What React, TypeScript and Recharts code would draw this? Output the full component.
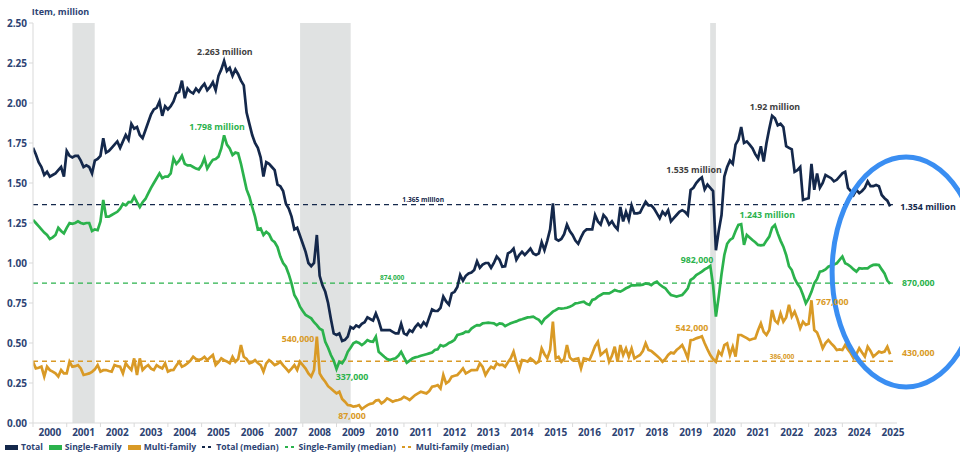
import React from 'react';
import {
  LineChart,
  Line,
  XAxis,
  YAxis,
  ReferenceArea,
  ReferenceLine,
  ReferenceDot,
  Legend,
} from 'recharts';

// Monthly values, million units (SAAR), Jan 2000 .. Jun 2025
const START_YEAR = 2000;

const totalSeries = [
  1.72, 1.68, 1.63, 1.60, 1.55, 1.57, 1.54, 1.55, 1.56, 1.58, 1.60, 1.54, // 2000
  1.70, 1.67, 1.66, 1.67, 1.67, 1.64, 1.60, 1.61, 1.60, 1.56, 1.64, 1.65, // 2001
  1.67, 1.78, 1.69, 1.70, 1.72, 1.74, 1.76, 1.72, 1.76, 1.80, 1.77, 1.87, // 2002
  1.84, 1.85, 1.80, 1.78, 1.83, 1.88, 1.93, 1.96, 1.97, 2.01, 1.92, 1.98, // 2003
  1.96, 1.98, 2.01, 2.06, 2.07, 2.14, 2.03, 2.09, 2.07, 2.06, 2.09, 2.07, // 2004
  2.10, 2.12, 2.08, 2.10, 2.13, 2.08, 2.17, 2.21, 2.263, 2.20, 2.22, 2.17, // 2005
  2.21, 2.18, 2.14, 2.11, 1.94, 1.87, 1.80, 1.75, 1.72, 1.66, 1.54, 1.63, // 2006
  1.62, 1.60, 1.58, 1.49, 1.48, 1.45, 1.37, 1.34, 1.29, 1.21, 1.22, 1.17, // 2007
  1.12, 1.07, 1.00, 0.98, 1.00, 1.175, 0.92, 0.86, 0.82, 0.75, 0.65, 0.56, // 2008
  0.55, 0.56, 0.513, 0.52, 0.54, 0.60, 0.59, 0.61, 0.60, 0.62, 0.63, 0.66, // 2009
  0.65, 0.64, 0.685, 0.64, 0.58, 0.58, 0.58, 0.58, 0.57, 0.56, 0.56, 0.62, // 2010
  0.56, 0.55, 0.58, 0.57, 0.60, 0.62, 0.60, 0.63, 0.61, 0.66, 0.71, 0.70, // 2011
  0.70, 0.72, 0.79, 0.76, 0.74, 0.81, 0.82, 0.85, 0.925, 0.89, 0.92, 0.935, // 2012
  0.94, 0.956, 1.01, 0.97, 0.99, 1.00, 1.00, 0.97, 1.00, 1.04, 1.02, 0.977, // 2013
  0.98, 1.06, 1.07, 1.09, 1.02, 1.05, 1.07, 1.05, 1.07, 1.09, 1.06, 1.05, // 2014
  1.06, 1.13, 1.08, 1.14, 1.21, 1.373, 1.15, 1.14, 1.15, 1.18, 1.24, 1.20, // 2015
  1.175, 1.14, 1.12, 1.16, 1.195, 1.21, 1.21, 1.21, 1.30, 1.26, 1.24, 1.30, // 2016
  1.28, 1.24, 1.26, 1.23, 1.21, 1.35, 1.26, 1.32, 1.27, 1.36, 1.31, 1.31, // 2017
  1.315, 1.35, 1.383, 1.36, 1.36, 1.34, 1.31, 1.28, 1.32, 1.30, 1.33, 1.26, // 2018
  1.28, 1.30, 1.32, 1.33, 1.32, 1.30, 1.456, 1.47, 1.50, 1.52, 1.535, 1.46, // 2019
  1.49, 1.47, 1.45, 1.08, 1.20, 1.30, 1.54, 1.60, 1.64, 1.62, 1.74, 1.77, // 2020
  1.85, 1.75, 1.76, 1.74, 1.717, 1.68, 1.654, 1.73, 1.634, 1.75, 1.84, 1.92, // 2021
  1.905, 1.86, 1.87, 1.85, 1.73, 1.72, 1.71, 1.57, 1.58, 1.60, 1.394, 1.40, // 2022
  1.405, 1.62, 1.457, 1.56, 1.47, 1.50, 1.55, 1.54, 1.53, 1.51, 1.52, 1.54, // 2023
  1.56, 1.57, 1.47, 1.45, 1.425, 1.457, 1.436, 1.45, 1.47, 1.51, 1.48, 1.48, // 2024
  1.488, 1.48, 1.425, 1.405, 1.39, 1.354, // 2025
];

const singleFamilySeries = [
  1.27, 1.25, 1.23, 1.21, 1.19, 1.175, 1.15, 1.16, 1.175, 1.22, 1.20, 1.185, // 2000
  1.22, 1.25, 1.245, 1.25, 1.26, 1.25, 1.245, 1.25, 1.25, 1.20, 1.21, 1.205, // 2001
  1.26, 1.394, 1.29, 1.29, 1.30, 1.31, 1.32, 1.34, 1.37, 1.36, 1.38, 1.38, // 2002
  1.414, 1.38, 1.35, 1.38, 1.40, 1.435, 1.47, 1.50, 1.53, 1.56, 1.53, 1.54, // 2003
  1.54, 1.56, 1.654, 1.62, 1.64, 1.67, 1.62, 1.61, 1.61, 1.60, 1.59, 1.585, // 2004
  1.61, 1.654, 1.59, 1.62, 1.645, 1.65, 1.665, 1.716, 1.798, 1.74, 1.716, 1.675, // 2005
  1.69, 1.685, 1.62, 1.54, 1.46, 1.414, 1.35, 1.29, 1.21, 1.216, 1.175, 1.195, // 2006
  1.18, 1.144, 1.13, 1.10, 1.04, 1.00, 0.977, 0.93, 0.873, 0.80, 0.77, 0.727, // 2007
  0.70, 0.675, 0.665, 0.654, 0.63, 0.612, 0.59, 0.58, 0.508, 0.47, 0.425, 0.39, // 2008
  0.337, 0.383, 0.373, 0.40, 0.445, 0.47, 0.498, 0.508, 0.50, 0.487, 0.50, 0.518, // 2009
  0.51, 0.508, 0.54, 0.445, 0.43, 0.414, 0.40, 0.393, 0.40, 0.404, 0.42, 0.445, // 2010
  0.41, 0.377, 0.39, 0.404, 0.41, 0.414, 0.42, 0.425, 0.43, 0.435, 0.44, 0.456, // 2011
  0.46, 0.487, 0.48, 0.487, 0.50, 0.508, 0.52, 0.55, 0.555, 0.56, 0.571, 0.57, // 2012
  0.59, 0.602, 0.612, 0.61, 0.623, 0.625, 0.627, 0.625, 0.623, 0.612, 0.623, 0.62, // 2013
  0.606, 0.615, 0.623, 0.63, 0.635, 0.643, 0.648, 0.654, 0.66, 0.662, 0.665, 0.654, // 2014
  0.645, 0.623, 0.65, 0.665, 0.68, 0.696, 0.705, 0.717, 0.715, 0.717, 0.72, 0.727, // 2015
  0.735, 0.748, 0.75, 0.755, 0.758, 0.745, 0.738, 0.769, 0.775, 0.79, 0.80, 0.81, // 2016
  0.81, 0.81, 0.82, 0.831, 0.825, 0.821, 0.83, 0.842, 0.85, 0.862, 0.86, 0.862, // 2017
  0.862, 0.865, 0.873, 0.87, 0.862, 0.875, 0.883, 0.865, 0.852, 0.842, 0.82, 0.80, // 2018
  0.795, 0.79, 0.795, 0.80, 0.82, 0.842, 0.894, 0.905, 0.925, 0.935, 0.946, 0.96, // 2019
  0.97, 0.982, 0.86, 0.665, 0.79, 0.93, 1.05, 1.12, 1.144, 1.155, 1.20, 1.238, // 2020
  1.243, 1.113, 1.175, 1.16, 1.144, 1.13, 1.113, 1.11, 1.113, 1.14, 1.165, 1.22, // 2021
  1.238, 1.185, 1.14, 1.102, 1.05, 0.98, 0.956, 0.904, 0.87, 0.845, 0.80, 0.748, // 2022
  0.779, 0.82, 0.873, 0.90, 0.946, 0.95, 0.96, 0.977, 0.985, 0.99, 0.998, 1.02, // 2023
  1.04, 0.998, 0.99, 0.977, 0.96, 0.946, 0.967, 0.965, 0.967, 0.967, 0.98, 0.988, // 2024
  0.99, 0.988, 0.96, 0.935, 0.89, 0.870, // 2025
];

const multiFamilySeries = [
  0.383, 0.341, 0.345, 0.352, 0.29, 0.352, 0.33, 0.321, 0.31, 0.29, 0.331, 0.31, // 2000
  0.31, 0.383, 0.352, 0.355, 0.362, 0.341, 0.30, 0.305, 0.31, 0.32, 0.335, 0.362, // 2001
  0.321, 0.33, 0.331, 0.325, 0.321, 0.362, 0.355, 0.352, 0.31, 0.373, 0.35, 0.331, // 2002
  0.404, 0.30, 0.404, 0.331, 0.35, 0.362, 0.34, 0.331, 0.362, 0.35, 0.341, 0.373, // 2003
  0.321, 0.33, 0.331, 0.36, 0.383, 0.352, 0.36, 0.373, 0.39, 0.414, 0.40, 0.393, // 2004
  0.40, 0.414, 0.393, 0.41, 0.425, 0.362, 0.38, 0.404, 0.393, 0.385, 0.373, 0.414, // 2005
  0.383, 0.40, 0.487, 0.414, 0.40, 0.373, 0.38, 0.393, 0.375, 0.362, 0.321, 0.373, // 2006
  0.393, 0.38, 0.362, 0.37, 0.383, 0.36, 0.341, 0.321, 0.34, 0.362, 0.331, 0.383, // 2007
  0.362, 0.34, 0.31, 0.29, 0.331, 0.54, 0.31, 0.28, 0.258, 0.23, 0.216, 0.20, // 2008
  0.185, 0.195, 0.15, 0.133, 0.112, 0.11, 0.102, 0.105, 0.112, 0.087, 0.10, 0.112, // 2009
  0.12, 0.123, 0.14, 0.144, 0.123, 0.135, 0.154, 0.145, 0.133, 0.14, 0.144, 0.15, // 2010
  0.164, 0.155, 0.144, 0.16, 0.175, 0.185, 0.195, 0.19, 0.185, 0.20, 0.227, 0.23, // 2011
  0.237, 0.216, 0.30, 0.248, 0.26, 0.29, 0.295, 0.30, 0.32, 0.341, 0.31, 0.32, // 2012
  0.331, 0.33, 0.331, 0.373, 0.35, 0.30, 0.33, 0.352, 0.341, 0.373, 0.362, 0.365, // 2013
  0.352, 0.38, 0.404, 0.446, 0.38, 0.331, 0.393, 0.39, 0.383, 0.404, 0.39, 0.373, // 2014
  0.383, 0.466, 0.43, 0.404, 0.456, 0.633, 0.404, 0.414, 0.383, 0.40, 0.487, 0.41, // 2015
  0.393, 0.40, 0.404, 0.341, 0.404, 0.40, 0.393, 0.435, 0.48, 0.508, 0.425, 0.44, // 2016
  0.456, 0.383, 0.42, 0.477, 0.383, 0.487, 0.425, 0.466, 0.414, 0.466, 0.404, 0.415, // 2017
  0.425, 0.45, 0.498, 0.456, 0.45, 0.435, 0.42, 0.404, 0.383, 0.40, 0.425, 0.44, // 2018
  0.435, 0.456, 0.47, 0.487, 0.45, 0.404, 0.518, 0.52, 0.529, 0.535, 0.542, 0.498, // 2019
  0.46, 0.425, 0.40, 0.383, 0.446, 0.425, 0.487, 0.498, 0.425, 0.477, 0.415, 0.55, // 2020
  0.55, 0.54, 0.53, 0.519, 0.525, 0.529, 0.58, 0.623, 0.57, 0.55, 0.581, 0.706, // 2021
  0.64, 0.623, 0.685, 0.633, 0.66, 0.738, 0.665, 0.696, 0.65, 0.592, 0.633, 0.613, // 2022
  0.62, 0.767, 0.581, 0.565, 0.52, 0.467, 0.50, 0.519, 0.498, 0.48, 0.456, 0.46, // 2023
  0.456, 0.488, 0.46, 0.436, 0.404, 0.43, 0.467, 0.44, 0.415, 0.477, 0.45, 0.415, // 2024
  0.43, 0.446, 0.44, 0.446, 0.477, 0.430, // 2025
];

// medians of each series
const totalMedian = 1.365;
const singleFamilyMedian = 0.874;
const multiFamilyMedian = 0.386;

// recession periods (decimal years)
const recessions = [
  [2001.17, 2001.83],
  [2007.92, 2009.42],
  [2020.08, 2020.25],
];

const yearTicks = Array.from({ length: 26 }, (_, i) => START_YEAR + i);
const valueTicks = [0, 0.25, 0.5, 0.75, 1, 1.25, 1.5, 1.75, 2, 2.25, 2.5];

const chartData = totalSeries.map((v, i) => ({
  t: START_YEAR + i / 12,
  total: v,
  single: singleFamilySeries[i],
  multi: multiFamilySeries[i],
}));

const NAVY = '#14284b';
const GREEN = '#2bb24c';
const GOLD = '#d99a26';
const GREY_TEXT = '#3f3f3f';
const AXIS_TEXT = '#2d4373';

// callouts: [year, value, text, colour, size]
const callouts: [number, number, string, string, number][] = [
  [2005.69, 2.319, '2.263 million', GREY_TEXT, 8.8],
  [2005.46, 1.85, '1.798 million', GREEN, 8.8],
  [2007.86, 0.525, '540,000', GOLD, 8.8],
  [2009.46, 0.2875, '337,000', GREEN, 8.8],
  [2009.46, 0.044, '87,000', GOLD, 8.8],
  [2019.6, 1.581, '1.535 million', GREY_TEXT, 8.8],
  [2022.0, 1.975, '1.92 million', GREY_TEXT, 8.8],
  [2021.77, 1.3, '1.243 million', GREEN, 8.8],
  [2019.69, 1.019, '982,000', GREEN, 8.8],
  [2026.54, 1.35, '1.354 million', NAVY, 8.8],
  [2026.25, 0.875, '870,000', GREEN, 8.8],
  [2023.7, 0.756, '767,000', GOLD, 8.8],
  [2019.54, 0.594, '542,000', GOLD, 8.8],
  [2026.25, 0.4375, '430,000', GOLD, 8.8],
  [2011.57, 1.394, '1.365 million', NAVY, 6.6],
  [2010.65, 0.906, '874,000', GREEN, 6.6],
  [2022.21, 0.4125, '386,000', GOLD, 6.6],
];

const legendItems = [
  { label: 'Total', color: NAVY, dashed: false },
  { label: 'Single-Family', color: GREEN, dashed: false },
  { label: 'Multi-family', color: GOLD, dashed: false },
  { label: 'Total (median)', color: NAVY, dashed: true },
  { label: 'Single-Family (median)', color: GREEN, dashed: true },
  { label: 'Multi-family (median)', color: GOLD, dashed: true },
];

const W = 960;
const H = 453;
const Y_AXIS_W = 33;
const MARGIN = { top: 23, right: 63, left: 0, bottom: 0 };
const X_MAX = 2025.62;
const HALF_YEAR = (W - Y_AXIS_W - MARGIN.left - MARGIN.right) / (X_MAX - START_YEAR) / 2;

const YearTick = (props: any) => {
  const { x, y, payload } = props;
  if (payload.value > 2025) return null;
  return (
    <text x={x + HALF_YEAR} y={y} dy="0.71em" textAnchor="middle" fill={AXIS_TEXT} fontSize={10} fontWeight={700}>
      {payload.value}
    </text>
  );
};

const renderLegend = () => (
  <div style={{ display: 'flex', alignItems: 'center', gap: 6, fontSize: 8.6, fontWeight: 700, color: AXIS_TEXT, whiteSpace: 'nowrap', lineHeight: '12px' }}>
    {legendItems.map((it) => (
      <span key={it.label} style={{ display: 'inline-flex', alignItems: 'center', gap: 3 }}>
        {it.dashed ? (
          <svg width={11} height={6}>
            <line x1={0} y1={3} x2={11} y2={3} stroke={it.color} strokeWidth={2} strokeDasharray="3 3" />
          </svg>
        ) : (
          <span style={{ display: 'inline-block', width: 13, height: 5, background: it.color }} />
        )}
        {it.label}
      </span>
    ))}
  </div>
);

export default function App() {
  return (
    <div style={{ position: 'absolute', left: 0, top: 0, width: W, height: H, background: '#fff', overflow: 'hidden', fontFamily: '"Open Sans", sans-serif' }}>
      <LineChart width={W} height={H} data={chartData} margin={MARGIN}>
        {recessions.map(([a, b]) => (
          <ReferenceArea key={a} x1={a} x2={b} y1={0} y2={2.5} fill="#e0e2e2" fillOpacity={1} stroke="none" />
        ))}
        <XAxis
          dataKey="t"
          type="number"
          domain={[START_YEAR, X_MAX]}
          ticks={yearTicks}
          tick={YearTick}
          tickSize={4}
          tickMargin={2}
          height={30}
          interval={0}
          allowDataOverflow
          axisLine={{ stroke: '#d9d9d9' }}
          tickLine={{ stroke: '#d9d9d9' }}
        />
        <YAxis
          type="number"
          domain={[0, 2.5]}
          ticks={valueTicks}
          width={Y_AXIS_W}
          tickFormatter={(v: number) => v.toFixed(2)}
          tick={{ fill: AXIS_TEXT, fontSize: 10, fontWeight: 700 }}
          tickSize={4}
          tickMargin={2}
          axisLine={{ stroke: '#d9d9d9' }}
          tickLine={{ stroke: '#d9d9d9' }}
          label={{ value: 'Item, million', position: 'top', offset: 8, dx: 44, fill: AXIS_TEXT, fontSize: 9, fontWeight: 700 }}
        />
        <ReferenceLine segment={[{ x: START_YEAR, y: totalMedian }, { x: 2025.5, y: totalMedian }]} stroke={NAVY} strokeWidth={1.3} strokeDasharray="5 4" />
        <ReferenceLine segment={[{ x: START_YEAR, y: singleFamilyMedian }, { x: 2025.5, y: singleFamilyMedian }]} stroke={GREEN} strokeWidth={1.3} strokeDasharray="5 4" />
        <ReferenceLine segment={[{ x: START_YEAR, y: multiFamilyMedian }, { x: 2025.5, y: multiFamilyMedian }]} stroke={GOLD} strokeWidth={1.3} strokeDasharray="5 4" />
        <Line dataKey="total" stroke={NAVY} strokeWidth={2.7} dot={false} isAnimationActive={false} />
        <Line dataKey="single" stroke={GREEN} strokeWidth={2.7} dot={false} isAnimationActive={false} />
        <Line dataKey="multi" stroke={GOLD} strokeWidth={2.7} dot={false} isAnimationActive={false} />
        {callouts.map(([x, y, text, color, size]) => (
          <ReferenceDot
            key={text}
            x={x}
            y={y}
            r={0}
            fill="none"
            stroke="none"
            ifOverflow="visible"
            label={{ value: text, position: 'center', fill: color, fontSize: size, fontWeight: 700 }}
          />
        ))}
        <ReferenceDot
          x={2025.89}
          y={0.944}
          r={0}
          ifOverflow="visible"
          shape={(p: any) => (
            <ellipse cx={p.cx} cy={p.cy} rx={74} ry={115} fill="none" stroke="#3a8ef2" strokeWidth={5} />
          )}
        />
        <Legend
          verticalAlign="middle"
          align="center"
          layout="horizontal"
          content={renderLegend}
          wrapperStyle={{ top: 441, left: 5, width: 560 }}
        />
      </LineChart>
    </div>
  );
}
